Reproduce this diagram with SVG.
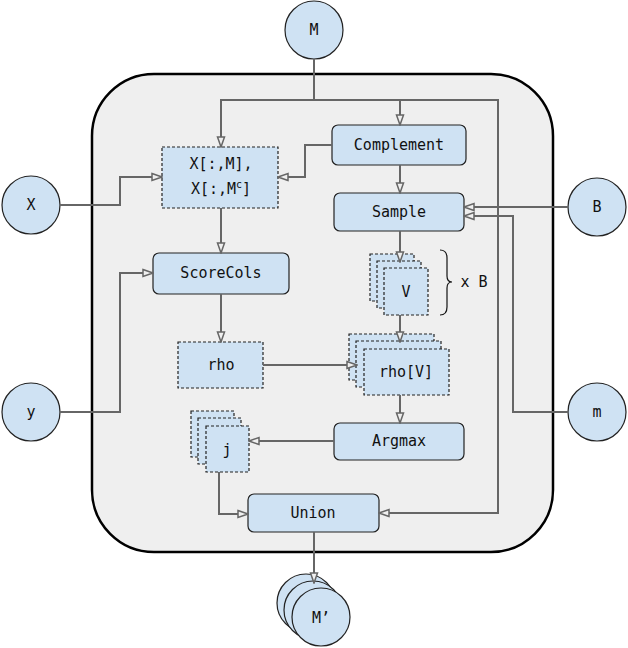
<svg xmlns="http://www.w3.org/2000/svg" width="628" height="648" viewBox="0 0 628 648">
<style>
.n{fill:#cfe2f3;stroke:#222;stroke-width:1.2}
.d{fill:#cfe2f3;stroke:#222;stroke-width:1.2;stroke-dasharray:3,2}
.c{fill:#cfe2f3;stroke:#222;stroke-width:1.2}
text{font-family:"DejaVu Sans Mono","Liberation Mono",monospace;font-size:15px;fill:#111;text-anchor:middle;dominant-baseline:central}
.e{fill:none;stroke:#666;stroke-width:2;marker-end:url(#a)}
</style>
<defs><marker id="a" viewBox="0 0 12 10" refX="11" refY="5" markerWidth="12" markerHeight="10" orient="auto" markerUnits="userSpaceOnUse"><path d="M1,1.5 L11,5 L1,8.5 Z" fill="#efefef" stroke="#666" stroke-width="1.5"/></marker></defs>
<rect x="92" y="74" width="461" height="478" rx="62" fill="#efefef" stroke="#000" stroke-width="2.5"/>
<g id="M"><circle class="c" cx="314" cy="30" r="29"/><text x="314" y="30">M</text></g>
<g id="X"><circle class="c" cx="31" cy="205" r="29"/><text x="31" y="205">X</text></g>
<g id="B"><circle class="c" cx="597" cy="207" r="29"/><text x="597" y="207">B</text></g>
<g id="y"><circle class="c" cx="31" cy="412" r="29"/><text x="31" y="412">y</text></g>
<g id="m"><circle class="c" cx="597" cy="412" r="29"/><text x="597" y="412">m</text></g>
<g id="Mprime"><circle class="c" cx="306" cy="603" r="29"/><circle class="c" cx="313" cy="610" r="29"/><circle class="c" cx="321" cy="617" r="29"/><text x="321" y="618">M’</text></g>
<g id="Xsel"><rect class="d" x="162" y="147" width="116" height="61"/><text x="221" y="164">X[:,M],</text><text x="221" y="189">X[:,M<tspan font-size="10" dy="-5">c</tspan><tspan dy="5">]</tspan></text></g>
<g id="Complement"><rect class="n" x="332" y="125" width="134" height="40" rx="6"/><text x="399" y="145">Complement</text></g>
<g id="Sample"><rect class="n" x="334" y="193" width="130" height="38" rx="6"/><text x="399" y="212">Sample</text></g>
<g id="ScoreCols"><rect class="n" x="153" y="253" width="136" height="41" rx="6"/><text x="221" y="273">ScoreCols</text></g>
<g id="V"><rect class="d" x="370" y="254" width="44" height="47"/><rect class="d" x="377" y="261" width="44" height="47"/><rect class="d" x="384" y="268" width="44" height="47"/><text x="406" y="292">V</text>
<path d="M440,250 Q447,250 447,258 V276 Q447,282 452,282 Q447,282 447,288 V307 Q447,315 440,315" fill="none" stroke="#111" stroke-width="1.2"/><text x="474" y="282" font-size="14">x B</text></g>
<g id="rho"><rect class="d" x="178" y="342" width="85" height="46"/><text x="221" y="365">rho</text></g>
<g id="rhoV"><rect class="d" x="349" y="334" width="85" height="46"/><rect class="d" x="356" y="341" width="85" height="46"/><rect class="d" x="364" y="349" width="85" height="46"/><text x="406" y="372">rho[V]</text></g>
<g id="Argmax"><rect class="n" x="334" y="423" width="130" height="37" rx="6"/><text x="399" y="441">Argmax</text></g>
<g id="j"><rect class="d" x="191" y="411" width="43" height="46"/><rect class="d" x="198" y="418" width="43" height="46"/><rect class="d" x="206" y="426" width="43" height="46"/><text x="227" y="450">j</text></g>
<g id="Union"><rect class="n" x="248" y="494" width="131" height="38" rx="6"/><text x="313" y="513">Union</text></g>
<g id="connectors">
<path class="e" d="M314,59 V100 H221 V147"/>
<path class="e" d="M314,100 H400 V125"/>
<path class="e" d="M400,100 H498 V513 H379"/>
<path class="e" d="M332,145 H305 V177 H278"/>
<path class="e" d="M60,205 H120 V177 H162"/>
<path class="e" d="M221,208 V253"/>
<path class="e" d="M400,165 V193"/>
<path class="e" d="M568,207 H464"/>
<path class="e" d="M568,412 H513 V216 H464"/>
<path class="e" d="M400,231 V262"/>
<path class="e" d="M400,315 V342"/>
<path class="e" d="M60,412 H120 V273 H153"/>
<path class="e" d="M221,294 V342"/>
<path class="e" d="M263,365 H357"/>
<path class="e" d="M400,395 V423"/>
<path class="e" d="M334,441 H249"/>
<path class="e" d="M219,472 V514 H248"/>
<path class="e" d="M314,532 V583"/>
</g>
</svg>
